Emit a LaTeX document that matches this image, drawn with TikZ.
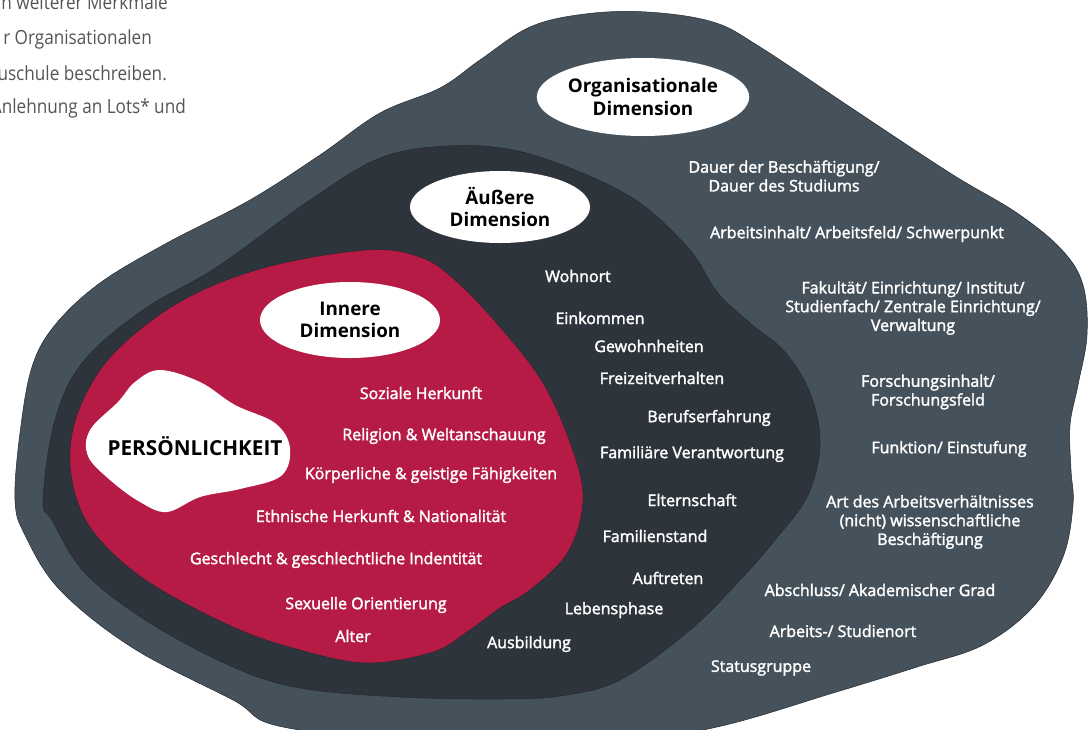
\documentclass[tikz,border=0pt]{standalone}
\usepackage{fontspec}
\setmainfont{Open Sans}
\newfontfamily\labelfont{Open Sans}[FakeBold=2]
\newfontfamily\notefont{Open Sans}[FakeStretch=0.88]
\definecolor{orgc}{HTML}{46525B}
\definecolor{outc}{HTML}{2E343C}
\definecolor{innc}{HTML}{B51B45}
\definecolor{notec}{HTML}{555555}
\definecolor{edgec}{HTML}{25292E}
\usetikzlibrary{shapes.geometric}
\tikzset{
  layer/.style={draw=edgec, line width=0.5pt},
  item/.style={font=\labelfont\fontsize{16}{18.8}\selectfont, text=white, align=center, inner sep=0pt},
  dimtitle/.style={ellipse, fill=white, inner sep=0pt, align=center, font=\bfseries\fontsize{18.8}{22.5}\selectfont},
  note/.style={font=\notefont\fontsize{19.5}{23}\selectfont, text=notec, anchor=base east, inner sep=0pt}
}
\begin{document}
\begin{tikzpicture}[x=1pt,y=-1pt]
\useasboundingbox (0,0) rectangle (1092,729);
\clip (0,0) rectangle (1092,729);

% intro text at the top left
\node[note] (n1) at (168,9) {n weiterer Merkmale};
\node[note] (n2) at (152,44) {r Organisationalen};
\node[note] (n3) at (167,80) {uschule beschreiben.};
\node[note] (n4) at (186,113) {Anlehnung an Lots* und};

% organisational dimension
\fill[orgc, layer] plot[smooth cycle, tension=0.6] coordinates {
  (15,500) (20,433) (32,367) (55,325) (100,283) (167,243) (250,200)
  (320,155) (380,113) (440,88) (480,60) (530,27) (585,14) (647,12)
  (713,22) (760,47) (850,107) (950,173) (1017,213) (1062,250) (1083,285)
  (1087,335) (1078,385) (1070,425) (1071,470) (1073,505) (1063,557)
  (1033,607) (983,645) (917,667) (833,693) (717,727) (600,745) (450,745)
  (283,727) (233,700) (133,648) (60,590) (25,535)};

% outer dimension
\fill[outc, layer] plot[smooth cycle, tension=0.6] coordinates {
  (43,500) (55,420) (83,362) (143,310) (217,267) (310,200) (380,158)
  (447,146) (513,150) (580,172) (640,203) (690,250) (717,292) (750,323)
  (785,352) (810,393) (820,443) (808,495) (775,540) (740,580) (690,630)
  (620,680) (560,696) (500,699) (400,697) (300,688) (233,667) (150,623)
  (85,573) (52,520)};

% inner dimension
\fill[innc, layer] plot[smooth cycle, tension=0.6] coordinates {
  (367,250) (420,257) (455,280) (500,327) (543,383) (572,448) (583,500)
  (568,552) (530,590) (500,608) (467,632) (433,652) (367,663) (300,650)
  (233,627) (150,583) (100,540) (77,500) (70,450) (83,400) (117,350)
  (183,300) (267,267)};

% personality core
\fill[white] plot[smooth cycle, tension=0.6] coordinates {
  (160,370) (200,382) (235,405) (275,423) (290,448) (281,476) (240,489)
  (200,497) (167,512) (140,502) (110,480) (88,456) (90,430) (118,402)
  (135,382)};
\node[font=\bfseries\fontsize{20.7}{24}\selectfont] (pers) at (195,446) {PERSÖNLICHKEIT};

% dimension titles
\node[dimtitle, minimum width=180, minimum height=78] (org) at (643,97) {Organisationale\\Dimension};
\node[dimtitle, minimum width=180, minimum height=72] (out) at (500,207) {Äußere\\Dimension};
\node[dimtitle, minimum width=180, minimum height=76] (inn) at (350,320) {Innere\\Dimension};

% inner dimension items
\node[item] (i1) at (421,393) {Soziale Herkunft};
\node[item] (i2) at (444,436) {Religion \& Weltanschauung};
\node[item] (i3) at (431,475) {Körperliche \& geistige Fähigkeiten};
\node[item] (i4) at (381,516) {Ethnische Herkunft \& Nationalität};
\node[item] (i5) at (336,560) {Geschlecht \& geschlechtliche Indentität};
\node[item] (i6) at (366,605) {Sexuelle Orientierung};
\node[item] (i7) at (353,636) {Alter};

% outer dimension items
\node[item] (o1) at (578,276) {Wohnort};
\node[item] (o2) at (600,318) {Einkommen};
\node[item] (o3) at (649,346) {Gewohnheiten};
\node[item] (o4) at (662,378) {Freizeitverhalten};
\node[item] (o5) at (709,418) {Berufserfahrung};
\node[item] (o6) at (692,454) {Familiäre Verantwortung};
\node[item] (o7) at (692,500) {Elternschaft};
\node[item] (o8) at (655,536) {Familienstand};
\node[item] (o9) at (668,578) {Auftreten};
\node[item] (o10) at (614,610) {Lebensphase};
\node[item] (o11) at (529,644) {Ausbildung};

% organisational dimension items
\node[item] (g1) at (784,176) {Dauer der Beschäftigung/\\Dauer des Studiums};
\node[item] (g2) at (857,234) {Arbeitsinhalt/ Arbeitsfeld/ Schwerpunkt};
\node[item] (g3) at (913,308) {Fakultät/ Einrichtung/ Institut/\\Studienfach/ Zentrale Einrichtung/\\Verwaltung};
\node[item] (g4) at (928,392) {Forschungsinhalt/\\Forschungsfeld};
\node[item] (g5) at (949,449) {Funktion/ Einstufung};
\node[item] (g6) at (930,522) {Art des Arbeitsverhältnisses\\(nicht) wissenschaftliche\\Beschäftigung};
\node[item] (g7) at (880,590) {Abschluss/ Akademischer Grad};
\node[item] (g8) at (843,631) {Arbeits-/ Studienort};
\node[item] (g9) at (761,668) {Statusgruppe};
\end{tikzpicture}
\end{document}
